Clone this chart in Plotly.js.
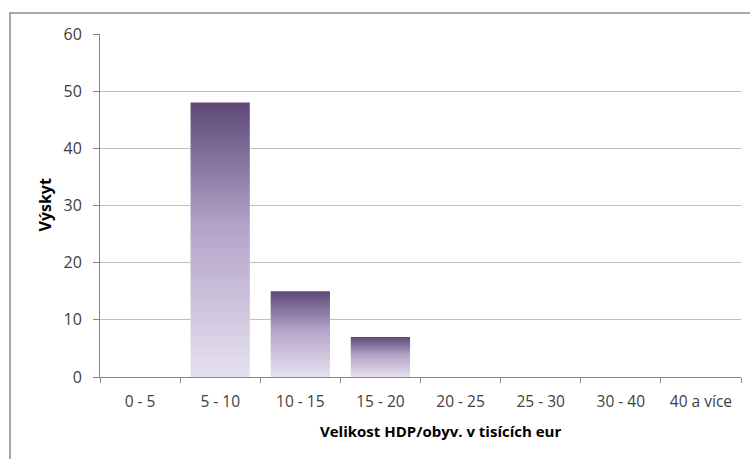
<!DOCTYPE html>
<html>
<head>
<meta charset="utf-8">
<script src="https://cdn.plot.ly/plotly-3.0.1.min.js"></script>
<style>
  html, body { margin: 0; padding: 0; background: #ffffff; }
  #chart { width: 750px; height: 459px; }
</style>
</head>
<body>
<div id="chart"></div>
<script>
const categories = ["0 - 5", "5 - 10", "10 - 15", "15 - 20", "20 - 25", "25 - 30", "30 - 40", "40 a více"];
const counts = [0, 48, 15, 7, 0, 0, 0, 0];
const yTickValues = [0, 10, 20, 30, 40, 50, 60];
const xTitle = "Velikost HDP/obyv. v tisících eur";
const yTitle = "Výskyt";

const FONT = "Open Sans, Noto Sans, sans-serif";

const trace = {
  type: "bar",
  x: categories,
  y: counts,
  marker: { color: "#b3a3c9", line: { width: 0 } },
  hoverinfo: "x+y"
};

const layout = {
  width: 750,
  height: 459,
  margin: { l: 100, r: 9, t: 34, b: 82, pad: 0 },
  paper_bgcolor: "#ffffff",
  plot_bgcolor: "#ffffff",
  showlegend: false,
  bargap: 0.26,
  font: { family: FONT, size: 16, color: "#404040" },
  xaxis: {
    type: "category",
    tickson: "boundaries",
    ticks: "outside",
    ticklen: 5,
    tickwidth: 1,
    tickcolor: "#868686",
    showline: true,
    linecolor: "#868686",
    linewidth: 1,
    showgrid: false,
    zeroline: false,
    ticklabelstandoff: 10,
    tickfont: { family: FONT, size: 15.5, color: "#404040" }
  },
  yaxis: {
    range: [0, 60],
    tickvals: yTickValues,
    ticks: "outside",
    ticklen: 6,
    tickwidth: 1,
    tickcolor: "#868686",
    showline: true,
    linecolor: "#868686",
    linewidth: 1,
    showgrid: true,
    gridcolor: "#bfbfbf",
    gridwidth: 1,
    zeroline: false,
    ticklabelstandoff: 8,
    tickfont: { family: FONT, size: 16, color: "#404040" }
  },
  annotations: [
    {
      text: "<b>" + xTitle + "</b>",
      xref: "paper", yref: "paper",
      x: (440 - 100) / 641, y: -(431 - 377) / 343,
      xanchor: "center", yanchor: "middle",
      showarrow: false,
      font: { family: FONT, size: 15, color: "#000000" }
    },
    {
      text: "<b>" + yTitle + "</b>",
      xref: "paper", yref: "paper",
      x: (44 - 100) / 641, y: 0.5,
      xanchor: "center", yanchor: "middle",
      textangle: -90,
      showarrow: false,
      font: { family: FONT, size: 16, color: "#000000" }
    }
  ],
  shapes: [
    {
      type: "rect",
      xref: "paper", yref: "paper",
      x0: (10 - 100) / 641, x1: 2,
      y0: -2, y1: 1 + (34 - 13) / 343,
      line: { color: "#8c8c8c", width: 1.5 },
      fillcolor: "rgba(0,0,0,0)",
      layer: "below"
    }
  ]
};

Plotly.newPlot("chart", [trace], layout, { displayModeBar: false, staticPlot: true }).then(function (gd) {
  const svg = gd.querySelector("svg.main-svg");
  const ns = "http://www.w3.org/2000/svg";
  let defs = svg.querySelector("defs");
  if (!defs) { defs = document.createElementNS(ns, "defs"); svg.insertBefore(defs, svg.firstChild); }
  const grad = document.createElementNS(ns, "linearGradient");
  grad.setAttribute("id", "barGrad");
  grad.setAttribute("x1", "0"); grad.setAttribute("y1", "0");
  grad.setAttribute("x2", "0"); grad.setAttribute("y2", "1");
  [["0", "#5e4978"], ["0.45", "#b3a3c9"], ["1", "#e6e1ef"]].forEach(function (s) {
    const st = document.createElementNS(ns, "stop");
    st.setAttribute("offset", s[0]);
    st.setAttribute("stop-color", s[1]);
    grad.appendChild(st);
  });
  defs.appendChild(grad);
  gd.querySelectorAll(".barlayer .point path").forEach(function (p) {
    p.style.fill = "url(#barGrad)";
  });
});
</script>
</body>
</html>
